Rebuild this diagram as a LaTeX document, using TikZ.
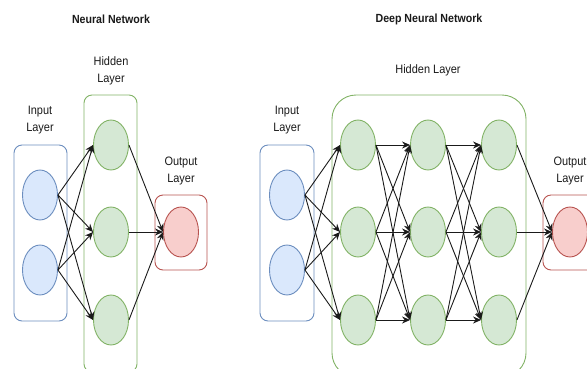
\documentclass[tikz,border=0pt]{standalone}
\usepackage{fontspec}
\setmainfont{Liberation Sans}[FakeStretch=0.9]
\usetikzlibrary{shapes.geometric,arrows.meta}

\definecolor{inline}{HTML}{6C8EBF}
\definecolor{infill}{HTML}{DAE8FC}
\definecolor{hidline}{HTML}{82B366}
\definecolor{hidfill}{HTML}{D5E8D4}
\definecolor{outline}{HTML}{B85450}
\definecolor{outfill}{HTML}{F8CECC}
\definecolor{ink}{HTML}{1A1A1A}

\tikzset{
  neuron/.style={ellipse, line width=0.9pt, minimum width=35pt, minimum height=50pt, inner sep=0pt},
  inneuron/.style={neuron, draw=inline, fill=infill},
  hidneuron/.style={neuron, draw=hidline, fill=hidfill},
  outneuron/.style={neuron, draw=outline, fill=outfill},
  layerbox/.style={rectangle, fill=white, line width=0.9pt, rounded corners=8pt, inner sep=0pt},
  conn/.style={-{Stealth[length=8pt,width=7pt]}, line width=0.9pt, draw=ink},
  lbl/.style={font=\fontsize{12.2}{17}\selectfont, align=center, text=ink},
  ttl/.style={font=\fontsize{11.8}{14}\selectfont\bfseries, text=ink}
}

\begin{document}
\begin{tikzpicture}[x=1pt, y=-1pt]
\useasboundingbox (0,0) rectangle (587,368);
\clip (0,0) rectangle (587,368);

% ---------- simple network ----------
\node[ttl] (t1) at (111,19) {Neural Network};

\node[layerbox, draw=inline, minimum width=53pt, minimum height=176pt] (ib1) at (40.5,233) {};
\node[layerbox, draw=hidline, minimum width=53pt, minimum height=277pt] (hb1) at (110.5,233.5) {};
\node[layerbox, draw=outline, minimum width=52pt, minimum height=75pt] (ob1) at (181,232.5) {};

\node[lbl] (il1) at (40,120) {Input\\Layer};
\node[lbl] (hl1) at (111,70.5) {Hidden\\Layer};
\node[lbl] (ol1) at (181,171) {Output\\Layer};

\node[inneuron] (a1) at (40,195) {};
\node[inneuron] (a2) at (40,270) {};
\node[hidneuron] (b1) at (111,145) {};
\node[hidneuron] (b2) at (111,232) {};
\node[hidneuron] (b3) at (111,320) {};
\node[outneuron] (c1) at (181,232) {};

\foreach \s in {a1,a2}
  \foreach \t in {b1,b2,b3}
    \draw[conn] (\s.east) -- (\t.west);
\foreach \s in {b1,b2,b3}
  \draw[conn] (\s.east) -- (c1.west);

% ---------- deep network ----------
\node[ttl] (t2) at (429,19) {Deep Neural Network};

\node[layerbox, draw=inline, minimum width=54pt, minimum height=176pt] (ib2) at (287,233) {};
\node[layerbox, draw=hidline, rounded corners=24pt, minimum width=194pt, minimum height=282pt] (hb2) at (429,236) {};
\node[layerbox, draw=outline, minimum width=52pt, minimum height=75pt] (ob2) at (569,232.5) {};

\node[lbl] (il2) at (287,120) {Input\\Layer};
\node[lbl] (hl2) at (428,70) {Hidden Layer};
\node[lbl] (ol2) at (570,171) {Output\\Layer};

\node[inneuron] (x1) at (287,195) {};
\node[inneuron] (x2) at (287,270) {};
\foreach \c/\xx in {1/358,2/428,3/499}{
  \node[hidneuron] (h\c1) at (\xx,145) {};
  \node[hidneuron] (h\c2) at (\xx,232) {};
  \node[hidneuron] (h\c3) at (\xx,320) {};
}
\node[outneuron] (y1) at (570,232) {};

\foreach \s in {x1,x2}
  \foreach \t in {1,2,3}
    \draw[conn] (\s.east) -- (h1\t.west);
\foreach \s in {1,2,3}
  \foreach \t in {1,2,3}{
    \draw[conn] (h1\s.east) -- (h2\t.west);
    \draw[conn] (h2\s.east) -- (h3\t.west);
  }
\foreach \s in {1,2,3}
  \draw[conn] (h3\s.east) -- (y1.west);
\end{tikzpicture}
\end{document}
